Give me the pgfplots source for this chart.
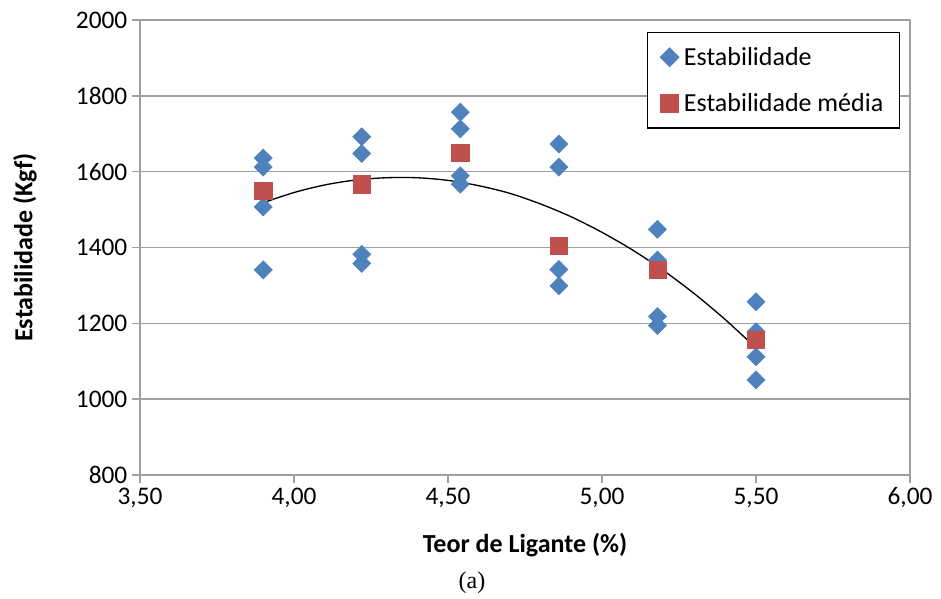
\documentclass[border=0pt]{standalone}
\usepackage{pgfplots}
\pgfplotsset{compat=1.18}
\usepackage{fontspec}
\setmainfont{Carlito}
\newfontfamily\serifcap{Liberation Serif}
\definecolor{blu}{HTML}{4F81BD}
\definecolor{rd}{HTML}{C0504D}
\definecolor{grd}{HTML}{A0A0A0}
\newcommand\tl{\fontsize{19}{22}\selectfont}
\begin{document}
\begin{tikzpicture}
\begin{axis}[
  scale only axis,
  width=577.5pt, height=341.25pt,
  xmin=3.5, xmax=6.0, ymin=800, ymax=2000,
  xtick={3.5,4,4.5,5,5.5,6},
  xticklabels={{\tl 3,50},{\tl 4,00},{\tl 4,50},{\tl 5,00},{\tl 5,50},{\tl 6,00}},
  ytick={800,1000,1200,1400,1600,1800,2000},
  yticklabels={{\tl 800},{\tl 1000},{\tl 1200},{\tl 1400},{\tl 1600},{\tl 1800},{\tl 2000}},
  ymajorgrids, grid style={grd, line width=1.1pt},
  axis line style={grd, line width=1.1pt},
  tick style={grd, line width=1.1pt},
  tick align=outside, major tick length=6pt,
  xtick pos=bottom, ytick pos=left,
  xlabel={\textbf{Teor de Ligante (\%)}},
  ylabel={\textbf{Estabilidade (Kgf)}},
  label style={font=\fontsize{19.5}{23}\selectfont},
  xlabel style={at={(axis description cs:0.5,0)}, anchor=center, yshift=-52.5pt},
  ylabel style={at={([xshift=-86.25pt]axis description cs:0,0.5)}, anchor=center},
  legend style={at={(0.987,0.974)}, anchor=north east, draw=black, line width=1pt,
    font=\fontsize{19.5}{23}\selectfont, row sep=15.5pt, inner xsep=10pt, inner ysep=9pt},
  legend cell align=left,
  clip=false,
]
\addplot[only marks, mark=square*, mark size=4.8pt, mark options={rotate=45, fill=blu, draw=blu}] coordinates {
(3.90,1636) (3.90,1612) (3.90,1507) (3.90,1341)
(4.22,1692) (4.22,1648) (4.22,1382) (4.22,1358)
(4.54,1757) (4.54,1713) (4.54,1589) (4.54,1567)
(4.86,1673) (4.86,1612) (4.86,1342) (4.86,1299)
(5.18,1448) (5.18,1367) (5.18,1218) (5.18,1194)
(5.50,1257) (5.50,1178) (5.50,1112) (5.50,1051)
};
\addlegendentry{\hspace{2pt}Estabilidade}
\addplot[only marks, mark=square*, mark size=6.5pt, mark options={fill=rd, draw=rd}] coordinates {
(3.90,1549) (4.22,1567) (4.54,1650) (4.86,1404) (5.18,1342) (5.50,1156)
};
\addlegendentry{\hspace{2pt}Estabilidade média}
\addplot[black, line width=1pt, smooth, forget plot] coordinates {
(3.90,1518) (4.00,1545) (4.10,1565) (4.20,1578) (4.30,1584) (4.40,1584)
(4.50,1577) (4.60,1563) (4.70,1543) (4.80,1515) (4.90,1481) (5.00,1440)
(5.10,1393) (5.20,1339) (5.30,1278) (5.40,1210) (5.50,1135)
};
\node[font=\serifcap\fontsize{18}{20}\selectfont] at ([yshift=-81pt]axis cs:4.578,800) {(a)};
\end{axis}
\path ([xshift=-105pt,yshift=-90.75pt]current axis.south west) rectangle ([xshift=23.25pt,yshift=15pt]current axis.north east);
\end{tikzpicture}
\end{document}
